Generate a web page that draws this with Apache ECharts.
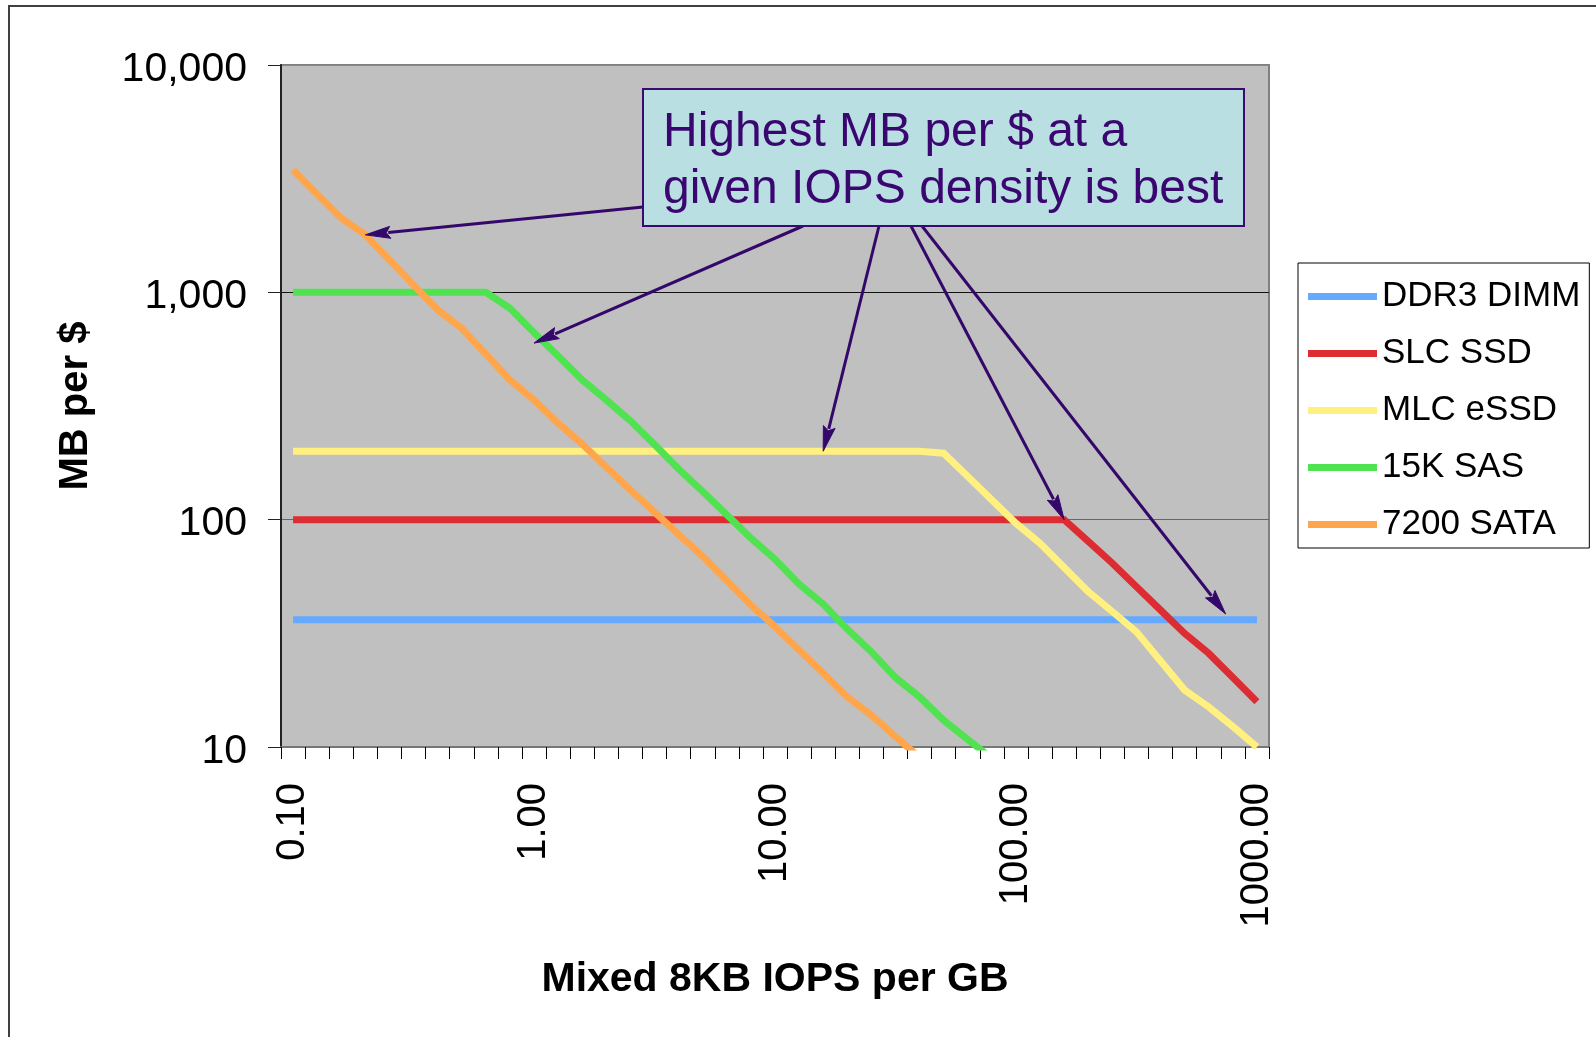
<!DOCTYPE html>
<html>
<head>
<meta charset="utf-8">
<script src="https://cdn.jsdelivr.net/npm/echarts@6/dist/echarts.min.js"></script>
<style>
  html, body { margin: 0; padding: 0; background: #ffffff; }
  #chart { width: 1596px; height: 1037px; }
</style>
</head>
<body>
<div id="chart"></div>
<script>
// ---- Data ----
const xCategories = ['0.1','0.126','0.158','0.2','0.251','0.316','0.398','0.501','0.631','0.794',
  '1','1.26','1.58','2','2.51','3.16','3.98','5.01','6.31','7.94',
  '10','12.6','15.8','20','25.1','31.6','39.8','50.1','63.1','79.4',
  '100','126','158','200','251','316','398','501','631','794','1000'];

const yTickLabels = ['10', '100', '1,000', '10,000'];

const seriesNames = ['DDR3 DIMM', 'SLC SSD', 'MLC eSSD', '15K SAS', '7200 SATA'];

const ddr3Dimm = [36.3,36.3,36.3,36.3,36.3,36.3,36.3,36.3,36.3,36.3,
  36.3,36.3,36.3,36.3,36.3,36.3,36.3,36.3,36.3,36.3,
  36.3,36.3,36.3,36.3,36.3,36.3,36.3,36.3,36.3,36.3,
  36.3,36.3,36.3,36.3,36.3,36.3,36.3,36.3,36.3,36.3,36.3];

const slcSsd = [100,100,100,100,100,100,100,100,100,100,
  100,100,100,100,100,100,100,100,100,100,
  100,100,100,100,100,100,100,100,100,100,
  100,100,100,80.2,64.3,50.7,40.0,31.6,25.8,20.2,15.8];

const mlcEssd = [200,200,200,200,200,200,200,200,200,200,
  200,200,200,200,200,200,200,200,200,200,
  200,200,200,200,200,200,200,196,155,122,
  96.4,78.7,61.6,48.2,39.4,32.1,23.9,17.8,15.0,12.3,10.0];

const sas15k = [1000,1000,1000,1000,1000,1000,1000,1000,1000,851,
  665,525,412,336,272,214,167,133,105,83,
  67,52,42.5,33,26.2,20.2,16.6,13.1,10.8,8.9,
  null,null,null,null,null,null,null,null,null,null,null];

const sata7200 = [3450,2700,2120,1790,1388,1078,837,695,535,412,
  336,266,215,170,135,108,86,69,54,42.1,
  33.8,26.7,21.1,16.6,13.8,11.1,9.0,null,null,null,
  null,null,null,null,null,null,null,null,null,null,null];

const seriesColors = ['#66AAFF', '#DD2D33', '#FFF080', '#50E250', '#FFA64D'];

const calloutLines = ['Highest MB per $ at a', 'given IOPS density is best'];
// arrow targets: [category index (may be fractional), value]
const arrowTargets = [[3, 1790], [10, 598], [22, 200], [32, 100], [38.7, 38.5]];

// ---- Chart ----
const FONT = 'Liberation Sans, Arial, sans-serif';
const chart = echarts.init(document.getElementById('chart'), null, { renderer: 'canvas' });

const allSeries = [ddr3Dimm, slcSsd, mlcEssd, sas15k, sata7200].map((d, i) => ({
  name: seriesNames[i],
  type: 'line',
  data: d,
  showSymbol: false,
  symbol: 'none',
  clip: true,
  connectNulls: false,
  animation: false,
  lineStyle: { color: seriesColors[i], width: 7, cap: 'butt', join: 'miter' },
  itemStyle: { color: seriesColors[i] },
  emphasis: { disabled: true }
}));

chart.setOption({
  animation: false,
  backgroundColor: '#ffffff',
  textStyle: { fontFamily: FONT },
  grid: {
    left: 281, top: 65, right: 327, bottom: 290,
    show: true, backgroundColor: '#C0C0C0', borderColor: '#808080', borderWidth: 2
  },
  legend: {
    orient: 'vertical',
    left: 1298, top: 263,
    padding: [16, 9, 6, 10],
    itemGap: 22,
    itemWidth: 69, itemHeight: 7,
    icon: 'rect',
    backgroundColor: '#ffffff',
    borderColor: '#000000', borderWidth: 1, borderRadius: 0,
    textStyle: { fontFamily: FONT, fontSize: 35, color: '#000', lineHeight: 35 },
    data: seriesNames
  },
  xAxis: {
    type: 'category',
    data: xCategories,
    boundaryGap: true,
    name: 'Mixed 8KB IOPS per GB',
    nameLocation: 'middle',
    nameGap: 212,
    nameTextStyle: { fontFamily: FONT, fontSize: 41, fontWeight: 'bold', color: '#000' },
    axisLine: { show: true, lineStyle: { color: '#777', width: 2 } },
    axisTick: { show: true, interval: 0, inside: false, length: 12, alignWithLabel: false, lineStyle: { color: '#000', width: 1 } },
    axisLabel: {
      interval: 9, rotate: 90, margin: 36,
      fontFamily: FONT, fontSize: 40, color: '#000',
      formatter: v => Number(v).toFixed(2)
    },
    splitLine: { show: false }
  },
  yAxis: {
    type: 'log',
    logBase: 10,
    min: 10, max: 10000,
    name: 'MB per $',
    nameLocation: 'middle',
    nameGap: 185,
    nameRotate: 90,
    nameTextStyle: { fontFamily: FONT, fontSize: 40, fontWeight: 'bold', color: '#000' },
    axisLine: { show: true, lineStyle: { color: '#222', width: 2 } },
    axisTick: { show: true, inside: false, length: 13, lineStyle: { color: '#222', width: 1 } },
    axisLabel: {
      margin: 34, fontFamily: FONT, fontSize: 41, color: '#000',
      formatter: v => '{t|' + yTickLabels[Math.round(Math.log10(v)) - 1] + '}',
      rich: { t: { fontFamily: FONT, fontSize: 41, color: '#000', padding: [9, 0, 0, 0] } }
    },
    minorTick: { show: false },
    splitLine: { show: true, lineStyle: { color: ['#777', '#666', '#111', '#888'], width: 1 } }
  },
  series: allSeries
});

// ---- Callout and arrows (graphic annotations) ----
function toPx(ci, v) {
  const lo = Math.floor(ci), hi = Math.ceil(ci);
  const a = chart.convertToPixel({ xAxisIndex: 0, yAxisIndex: 0 }, [lo, v]);
  if (lo === hi) return a;
  const b = chart.convertToPixel({ xAxisIndex: 0, yAxisIndex: 0 }, [hi, v]);
  const t = ci - lo;
  return [a[0] + (b[0] - a[0]) * t, a[1]];
}

const boxX = 643, boxY = 89, boxW = 601, boxH = 137;
const arrowStarts = [[boxX, 207], [803, boxY + boxH], [879, boxY + boxH], [911, boxY + boxH], [922, boxY + boxH]];
const ARROW = '#34086A';
const graphics = [];

arrowTargets.forEach((tg, k) => {
  const tip = toPx(tg[0], tg[1]);
  const s = arrowStarts[k];
  const dx = tip[0] - s[0], dy = tip[1] - s[1];
  const len = Math.sqrt(dx * dx + dy * dy);
  const ux = dx / len, uy = dy / len;
  const hl = 25, hw = 6;
  const bx = tip[0] - ux * hl, by = tip[1] - uy * hl;
  graphics.push({
    type: 'line', silent: true, z: 50,
    shape: { x1: s[0], y1: s[1], x2: bx + ux * 2, y2: by + uy * 2 },
    style: { stroke: ARROW, lineWidth: 3 }
  });
  graphics.push({
    type: 'polygon', silent: true, z: 51,
    shape: { points: [[tip[0], tip[1]], [bx - uy * hw, by + ux * hw], [bx + ux * 4, by + uy * 4], [bx + uy * hw, by - ux * hw]] },
    style: { fill: ARROW, stroke: ARROW, lineWidth: 1 }
  });
});

graphics.push({
  type: 'rect', silent: true, z: 60,
  shape: { x: boxX, y: boxY, width: boxW, height: boxH },
  style: { fill: '#BADFE3', stroke: '#3A0A6E', lineWidth: 2 }
});
graphics.push({
  type: 'text', silent: true, z: 61,
  x: 663, y: 104,
  style: {
    text: calloutLines.join('\n'),
    font: '48px ' + FONT,
    fill: '#3A0670',
    lineHeight: 57,
    verticalAlign: 'top',
    align: 'left'
  }
});
// outer chart-area border
graphics.push({
  type: 'rect', silent: true, z: 0,
  shape: { x: 9, y: 6, width: 1700, height: 1100 },
  style: { fill: 'none', stroke: '#404040', lineWidth: 2 }
});

chart.setOption({ graphic: graphics });
</script>
</body>
</html>
